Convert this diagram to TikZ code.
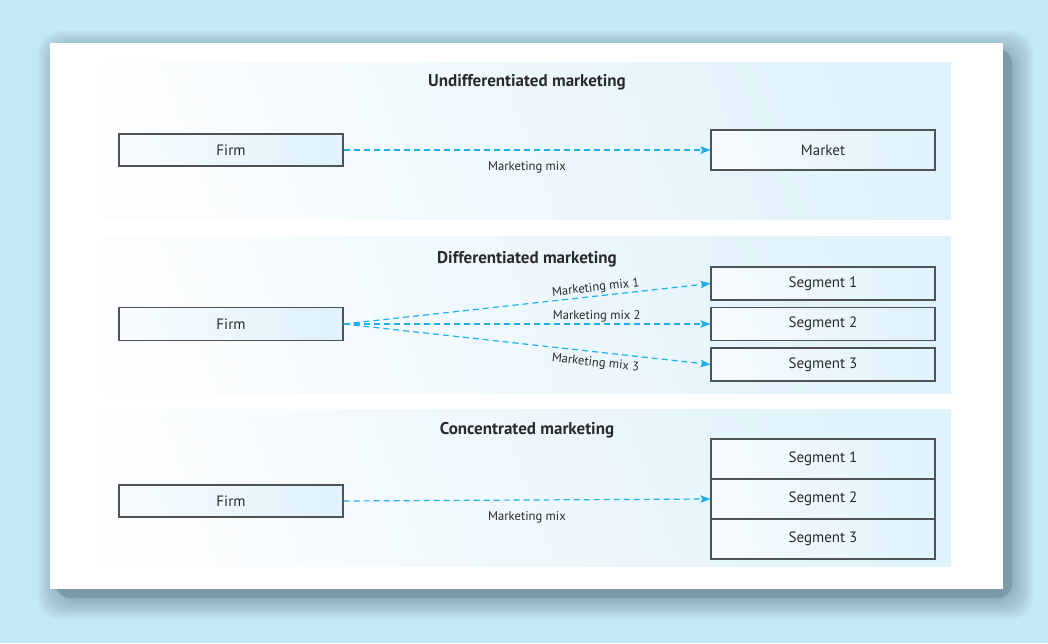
\documentclass[tikz,border=0pt]{standalone}
\usepackage{fontspec}
\setmainfont{PT Sans}
\usetikzlibrary{arrows.meta}
\definecolor{bgblue}{HTML}{C5E8F7}
\definecolor{shadowc}{HTML}{6F8C9C}
\definecolor{bandA}{HTML}{FBFDFE}
\definecolor{bandB}{HTML}{E0F2FB}
\definecolor{boxA}{HTML}{F6FBFE}
\definecolor{boxB}{HTML}{E0F2FB}
\definecolor{edgec}{HTML}{505355}
\definecolor{arrowc}{HTML}{1CB1EC}
\definecolor{txt}{HTML}{2A2A2A}
\tikzset{
  band/.style={left color=bandA, right color=bandB, shading angle=110, draw=none},
  box/.style={draw=edgec, line width=1.1pt, left color=boxA, right color=boxB, shading angle=100,
    minimum width=224pt, inner sep=0pt, text=txt, font=\fontsize{15}{17}\selectfont},
  title/.style={font=\bfseries\fontsize{17}{20}\selectfont, text=txt},
  mix/.style={draw=arrowc, line width=1.2pt, dash pattern=on 6pt off 4pt, -{Stealth[length=10pt,width=7.5pt,inset=2pt]}},
  lab/.style={font=\fontsize{12.6}{15}\selectfont, text=txt, inner sep=1.5pt}
}
\begin{document}
\begin{tikzpicture}[x=1pt,y=-1pt]
\useasboundingbox (0,0) rectangle (1048,643);
\fill[bgblue] (0,0) rectangle (1048,643);
% shadow
\foreach \i in {0,2,...,20}{
  \fill[shadowc, fill opacity=0.07, rounded corners=22pt] (58-\i,51-\i) rectangle (1013+\i,599+\i);
}
\fill[shadowc!85!bgblue, rounded corners=14pt] (56,49) rectangle (1012,598);
% panel
\fill[white] (50,43) rectangle (1003,589);
% bands
\shade[band] (103,62) rectangle (951,219);
\shade[band] (103,236) rectangle (951,393);
\shade[band] (103,409) rectangle (951,566);

% Undifferentiated
\node[title] (t1) at (527,82) {Undifferentiated marketing};
\node[box, minimum height=32pt] (firm1) at (231,150) {Firm};
\node[box, minimum height=40pt] (market) at (823,150) {Market};
\draw[mix] (firm1.east) -- node[lab, below=9pt] {Marketing mix} (market.west);

% Differentiated
\node[title] (t2) at (527,259) {Differentiated marketing};
\node[box, minimum height=33pt] (firm2) at (231,324) {Firm};
\node[box, minimum height=33pt] (seg1) at (823,283.5) {Segment 1};
\node[box, minimum height=33pt] (seg2) at (823,324) {Segment 2};
\node[box, minimum height=33pt] (seg3) at (823,364.5) {Segment 3};
\draw[mix] (firm2.east) -- node[lab, pos=0.69, above, sloped] {Marketing mix 1} (seg1.west);
\draw[mix] (firm2.east) -- node[lab, pos=0.69, above] {Marketing mix 2} (seg2.west);
\draw[mix] (firm2.east) -- node[lab, pos=0.69, below=3.5pt, sloped] {Marketing mix 3} (seg3.west);

% Concentrated
\node[title] (t3) at (527,430) {Concentrated marketing};
\node[box, minimum height=32pt] (firm3) at (231,501) {Firm};
\node[box, minimum height=40pt] (cseg1) at (823,459) {Segment 1};
\node[box, minimum height=40pt] (cseg2) at (823,499) {Segment 2};
\node[box, minimum height=40pt] (cseg3) at (823,539) {Segment 3};
\draw[mix] (firm3.east) -- node[lab, below=9pt] {Marketing mix} (cseg2.west);
\end{tikzpicture}
\end{document}
